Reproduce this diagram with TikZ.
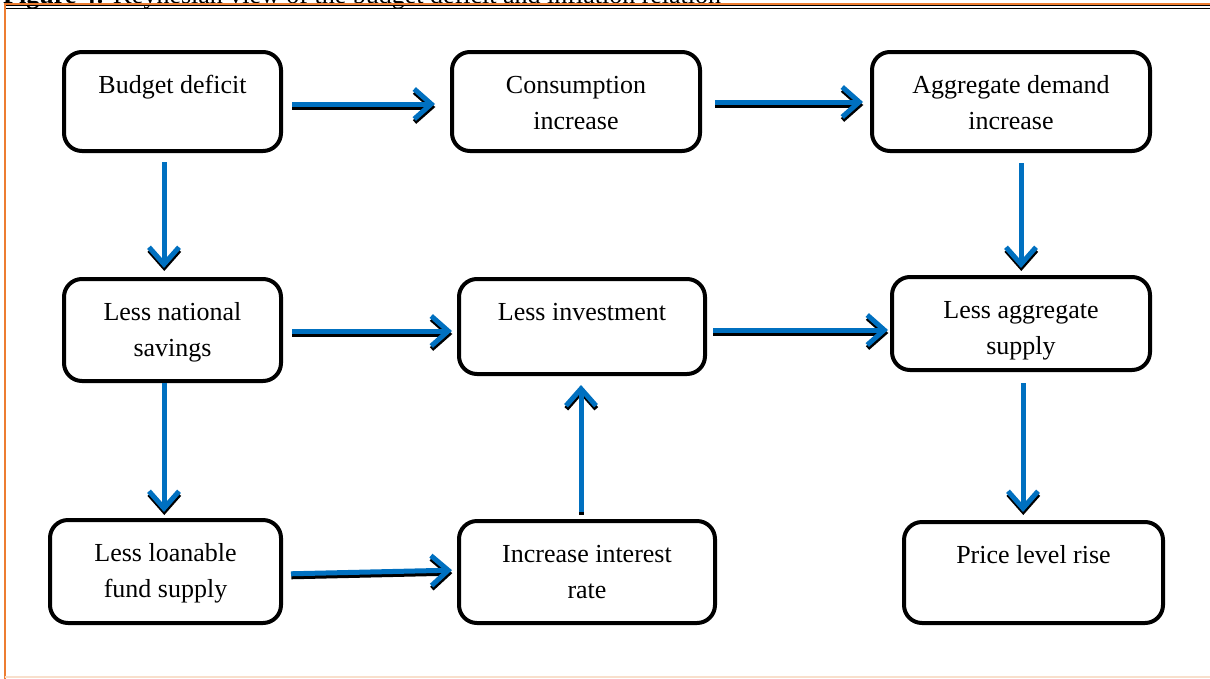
\documentclass[tikz,border=0pt]{standalone}
\usepackage{fontspec}
\setmainfont{Liberation Serif}
\usetikzlibrary{arrows.meta,calc}
\definecolor{arrblue}{RGB}{0,112,192}
\definecolor{frameorange}{RGB}{237,125,49}
\definecolor{framepeach}{RGB}{248,223,204}
\newcommand{\bxt}[3]{\parbox[c][#2][t]{#1}{\centering\vspace*{16pt}\strut #3}}
\newcommand{\conn}[3]{%
  \draw[arrshadow,#1] #2 -- #3;
  \draw[arr,#1] #2 -- #3;}
\begin{document}
\begin{tikzpicture}[x=1pt,y=-1pt,
  flowbox/.style={draw, line width=4pt, rounded corners=18pt, inner sep=0pt, outer sep=0pt,
    anchor=north west, font=\fontsize{26}{36}\selectfont},
  arrbase/.style={line width=5pt, -{Straight Barb[length=17pt,width=30pt]}},
  arr/.style={arrbase, arrblue},
  arrshadow/.style={arrbase, black, transform canvas={xshift=0.3pt,yshift=-3pt}}]
\useasboundingbox (0,0) rectangle (1210,678);
\clip (0,0) rectangle (1210,678);
\fill[white] (0,0) rectangle (1210,678);
% caption (clipped at top)
\node[anchor=base west, inner sep=0pt, font=\fontsize{26}{30}\selectfont] (cap) at (3,3)
  {\textbf{Figure 4:} Keynesian view of the budget deficit and inflation relation};
% frame
\draw[black, line width=0.8pt] (5,5.6) -- (1210,5.6);
\draw[black, line width=0.8pt] (5,8) -- (1210,8);
\draw[frameorange, line width=2pt] (4.5,690) -- (4.5,3.5) -- (1220,3.5);
\draw[framepeach, line width=1.5pt] (4.5,676.8) -- (1220,676.8);
% boxes
\node[flowbox, minimum width=217pt, minimum height=99pt] (bd) at (64,52) {\bxt{217pt}{99pt}{Budget deficit}};
\node[flowbox, minimum width=248pt, minimum height=99pt] (ci) at (452,52) {\bxt{248pt}{99pt}{Consumption\\increase}};
\node[flowbox, minimum width=278pt, minimum height=99pt] (ad) at (872,52) {\bxt{278pt}{99pt}{Aggregate demand\\increase}};
\node[flowbox, minimum width=217pt, minimum height=102pt] (lns) at (64,279) {\bxt{217pt}{102pt}{Less national\\savings}};
\node[flowbox, minimum width=246pt, minimum height=95pt] (li) at (459,279) {\bxt{246pt}{95pt}{Less investment}};
\node[flowbox, minimum width=258pt, minimum height=93pt] (las) at (892,277) {\bxt{258pt}{93pt}{Less aggregate\\supply}};
\node[flowbox, minimum width=231pt, minimum height=103pt] (llf) at (50,520) {\bxt{231pt}{103pt}{Less loanable\\fund supply}};
\node[flowbox, minimum width=256pt, minimum height=102pt] (iir) at (459,521) {\bxt{256pt}{102pt}{Increase interest\\rate}};
\node[flowbox, minimum width=259pt, minimum height=101pt] (plr) at (904,522) {\bxt{259pt}{101pt}{Price level rise}};
% connectors
\conn{shorten <=11pt, shorten >=17pt}{($(bd.east)+(0,2.5)$)}{($(ci.west)+(0,2.5)$)}
\conn{shorten <=15pt, shorten >=9pt}{($(ci.east)+(0,0.5)$)}{($(ad.west)+(0,0.5)$)}
\conn{shorten <=11pt, shorten >=11pt}{($(bd.south)+(-8.5,0)$)}{($(lns.north)+(-8.5,0)$)}
\conn{shorten <=12pt, shorten >=9pt}{($(ad.south)+(10,0)$)}{(las.north)}
\conn{shorten <=11pt, shorten >=7pt}{($(lns.east)+(0,1)$)}{($(li.west)+(0,4.5)$)}
\conn{shorten <=8pt, shorten >=4pt}{($(li.east)+(0,3.5)$)}{($(las.west)+(0,6.5)$)}
\conn{shorten <=2pt, shorten >=8pt}{($(lns.south)+(-8.5,0)$)}{($(llf.north)+(-1.5,0)$)}
\conn{shorten <=13pt, shorten >=10pt}{($(las.south)+(2,0)$)}{($(plr.north)+(-10.5,0)$)}
\conn{shorten <=10pt, shorten >=7pt}{($(llf.east)+(0,2.5)$)}{($(iir.west)+(0,-2)$)}
\conn{shorten <=9pt, shorten >=11pt}{($(iir.north)+(-6,0)$)}{($(li.south)+(-1,0)$)}
\end{tikzpicture}
\end{document}
